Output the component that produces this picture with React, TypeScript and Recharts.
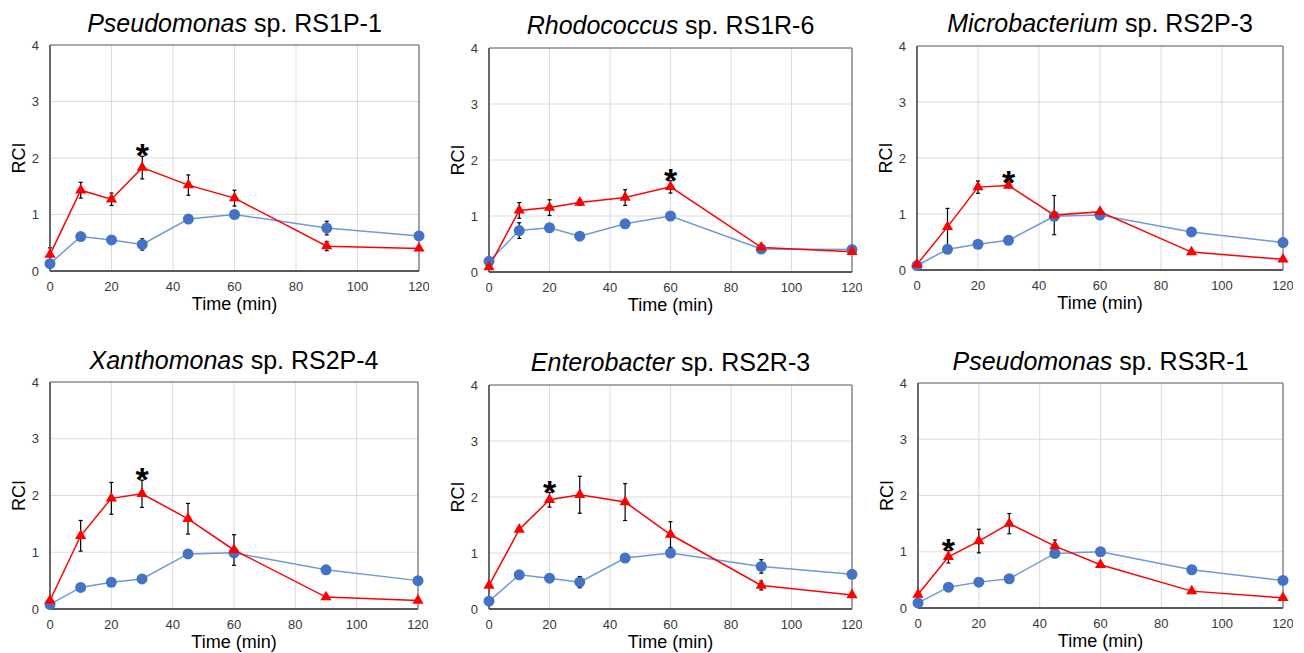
import React from "react";
import {
  CartesianGrid,
  ErrorBar,
  Line,
  LineChart,
  ReferenceDot,
  ReferenceLine,
  Symbols,
  XAxis,
  YAxis,
} from "recharts";

const TIMES = [0, 10, 20, 30, 45, 60, 90, 120];
const X_TICKS = [0, 20, 40, 60, 80, 100, 120];
const Y_TICKS = [0, 1, 2, 3, 4];
const X_GRID = [20, 40, 60, 80, 100];
const Y_GRID = [1, 2, 3];

// RS1P-1
const rs1p1Blue = [0.13, 0.61, 0.55, 0.47, 0.92, 1.0, 0.76, 0.62];
const rs1p1BlueErr = [0.03, 0.03, 0.03, 0.1, 0.03, 0.02, 0.12, 0.02];
const rs1p1Red = [0.29, 1.43, 1.27, 1.83, 1.52, 1.29, 0.44, 0.4];
const rs1p1RedErr = [0.12, 0.14, 0.11, 0.2, 0.18, 0.14, 0.08, 0.03];

// RS1R-6
const rs1r6Blue = [0.19, 0.74, 0.79, 0.64, 0.86, 1.0, 0.41, 0.4];
const rs1r6BlueErr = [0.02, 0.14, 0.04, 0.03, 0.03, 0.02, 0.03, 0.02];
const rs1r6Red = [0.09, 1.1, 1.15, 1.24, 1.33, 1.52, 0.44, 0.36];
const rs1r6RedErr = [0.03, 0.14, 0.14, 0.05, 0.14, 0.11, 0.04, 0.03];

// RS2P-3
const rs2p3Blue = [0.08, 0.37, 0.46, 0.53, 0.96, 0.98, 0.68, 0.49];
const rs2p3BlueErr = [0.02, 0.03, 0.03, 0.03, 0.03, 0.02, 0.03, 0.02];
const rs2p3Red = [0.1, 0.77, 1.48, 1.51, 0.98, 1.04, 0.32, 0.19];
const rs2p3RedErr = [0.03, 0.33, 0.11, 0.04, 0.35, 0.04, 0.03, 0.02];

// RS2P-4
const rs2p4Blue = [0.08, 0.38, 0.47, 0.53, 0.97, 0.99, 0.69, 0.5];
const rs2p4BlueErr = [0.02, 0.03, 0.03, 0.03, 0.03, 0.02, 0.03, 0.02];
const rs2p4Red = [0.15, 1.29, 1.95, 2.03, 1.59, 1.04, 0.21, 0.15];
const rs2p4RedErr = [0.03, 0.27, 0.28, 0.24, 0.27, 0.27, 0.03, 0.02];

// RS2R-3
const rs2r3Blue = [0.14, 0.61, 0.55, 0.48, 0.91, 1.0, 0.76, 0.62];
const rs2r3BlueErr = [0.02, 0.03, 0.03, 0.1, 0.03, 0.02, 0.12, 0.02];
const rs2r3Red = [0.42, 1.42, 1.95, 2.04, 1.91, 1.33, 0.42, 0.25];
const rs2r3RedErr = [0.03, 0.03, 0.13, 0.33, 0.33, 0.23, 0.08, 0.02];

// RS3R-1
const rs3r1Blue = [0.09, 0.37, 0.46, 0.52, 0.97, 1.0, 0.68, 0.49];
const rs3r1BlueErr = [0.02, 0.03, 0.03, 0.03, 0.03, 0.07, 0.03, 0.02];
const rs3r1Red = [0.24, 0.91, 1.19, 1.5, 1.1, 0.77, 0.3, 0.18];
const rs3r1RedErr = [0.03, 0.11, 0.21, 0.18, 0.11, 0.03, 0.03, 0.02];

const PANELS = [
  { genus: "Pseudomonas", strain: "RS1P-1", blue: rs1p1Blue, blueErr: rs1p1BlueErr, red: rs1p1Red, redErr: rs1p1RedErr, star: 3 },
  { genus: "Rhodococcus", strain: "RS1R-6", blue: rs1r6Blue, blueErr: rs1r6BlueErr, red: rs1r6Red, redErr: rs1r6RedErr, star: 5 },
  { genus: "Microbacterium", strain: "RS2P-3", blue: rs2p3Blue, blueErr: rs2p3BlueErr, red: rs2p3Red, redErr: rs2p3RedErr, star: 3 },
  { genus: "Xanthomonas", strain: "RS2P-4", blue: rs2p4Blue, blueErr: rs2p4BlueErr, red: rs2p4Red, redErr: rs2p4RedErr, star: 3 },
  { genus: "Enterobacter", strain: "RS2R-3", blue: rs2r3Blue, blueErr: rs2r3BlueErr, red: rs2r3Red, redErr: rs2r3RedErr, star: 2 },
  { genus: "Pseudomonas", strain: "RS3R-1", blue: rs3r1Blue, blueErr: rs3r1BlueErr, red: rs3r1Red, redErr: rs3r1RedErr, star: 1 },
];

// plot boxes (left, top, right, bottom) and title centre y
const BOXES = [
  { l: 50, t: 45, r: 419, b: 271, ty: 23 },
  { l: 489, t: 48, r: 852, b: 272, ty: 25 },
  { l: 917, t: 46, r: 1283, b: 270, ty: 23 },
  { l: 50, t: 382, r: 418, b: 609, ty: 360 },
  { l: 489, t: 385, r: 852, b: 609, ty: 362 },
  { l: 918, t: 383, r: 1283, b: 608, ty: 361 },
];

const FONT = "'Liberation Sans', Arial, sans-serif";
const Y_W = 50;
const X_H = 45;
const TOP = 45;
const RIGHT = 10;

const Triangle = (p: any) => {
  if (p.cx == null || p.cy == null) return null;
  return <Symbols key={`tri-${p.index}`} cx={p.cx} cy={p.cy} type="triangle" size={54} fill="#ff0000" stroke="none" />;
};

function Panel({ panel, box }: { panel: (typeof PANELS)[number]; box: (typeof BOXES)[number] }) {
  const data = TIMES.map((t, i) => ({
    t,
    blue: panel.blue[i],
    blueErr: panel.blueErr[i],
    red: panel.red[i],
    redErr: panel.redErr[i],
  }));
  const w = box.r - box.l + Y_W + RIGHT;
  const h = box.b - box.t + TOP + X_H;
  const s = panel.star;

  return (
    <>
      <div
        style={{
          position: "absolute",
          left: box.l,
          width: box.r - box.l,
          top: box.ty - 15,
          height: 30,
          lineHeight: "30px",
          textAlign: "center",
          fontSize: 25,
          color: "#000",
          whiteSpace: "nowrap",
        }}
      >
        <i>{panel.genus}</i> sp. {panel.strain}
      </div>
      <div style={{ position: "absolute", left: box.l - Y_W, top: box.t - TOP }}>
        <LineChart width={w} height={h} data={data} margin={{ top: TOP, right: RIGHT, bottom: 0, left: 0 }}>
          <CartesianGrid stroke="#dcdcdc" strokeWidth={1} horizontalValues={Y_GRID} verticalValues={X_GRID} />
          <ReferenceLine y={4} stroke="#8c8c8c" strokeWidth={1.6} />
          <ReferenceLine x={120} stroke="#8c8c8c" strokeWidth={1.6} />
          <XAxis
            dataKey="t"
            type="number"
            domain={[0, 120]}
            ticks={X_TICKS}
            height={X_H}
            axisLine={{ stroke: "#595959", strokeWidth: 1.8 }}
            tickLine={false}
            tickSize={6}
            tickMargin={5}
            tick={{ fontSize: 13, fill: "#383838", fontFamily: FONT }}
            label={{ value: "Time (min)", position: "insideBottom", offset: 6, fontSize: 18, fill: "#000", fontFamily: FONT }}
          />
          <YAxis
            type="number"
            domain={[0, 4]}
            ticks={Y_TICKS}
            width={Y_W}
            axisLine={{ stroke: "#595959", strokeWidth: 1.8 }}
            tickLine={false}
            tickSize={6}
            tickMargin={5}
            tick={{ fontSize: 13, fill: "#383838", fontFamily: FONT }}
            label={{
              value: "RCI",
              angle: -90,
              position: "insideLeft",
              offset: 19,
              fontSize: 18,
              fill: "#000",
              fontFamily: FONT,
              style: { textAnchor: "middle" },
            }}
          />
          <Line
            dataKey="blue"
            stroke="#6f9ad6"
            strokeWidth={1.5}
            dot={{ r: 5.5, fill: "#4472c4", stroke: "none" }}
            isAnimationActive={false}
          >
            <ErrorBar dataKey="blueErr" width={2} stroke="#000" strokeWidth={1.2} direction="y" />
          </Line>
          <Line
            dataKey="red"
            stroke="#ff0000"
            strokeWidth={1.5}
            dot={Triangle}
            isAnimationActive={false}
          >
            <ErrorBar dataKey="redErr" width={2} stroke="#000" strokeWidth={1.2} direction="y" />
          </Line>
          <ReferenceDot
            x={TIMES[s]}
            y={panel.red[s] + panel.redErr[s]}
            r={0}
            fill="none"
            stroke="none"
            label={{ value: "*", position: "top", offset: -11, fontSize: 34, fontWeight: "bold", fill: "#000", fontFamily: FONT }}
          />
        </LineChart>
      </div>
    </>
  );
}

export default function App() {
  return (
    <div
      style={{
        position: "absolute",
        left: 0,
        top: 0,
        width: 1304,
        height: 653,
        background: "#fff",
        overflow: "hidden",
        fontFamily: FONT,
      }}
    >
      {PANELS.map((p, i) => (
        <Panel key={p.strain} panel={p} box={BOXES[i]} />
      ))}
    </div>
  );
}
